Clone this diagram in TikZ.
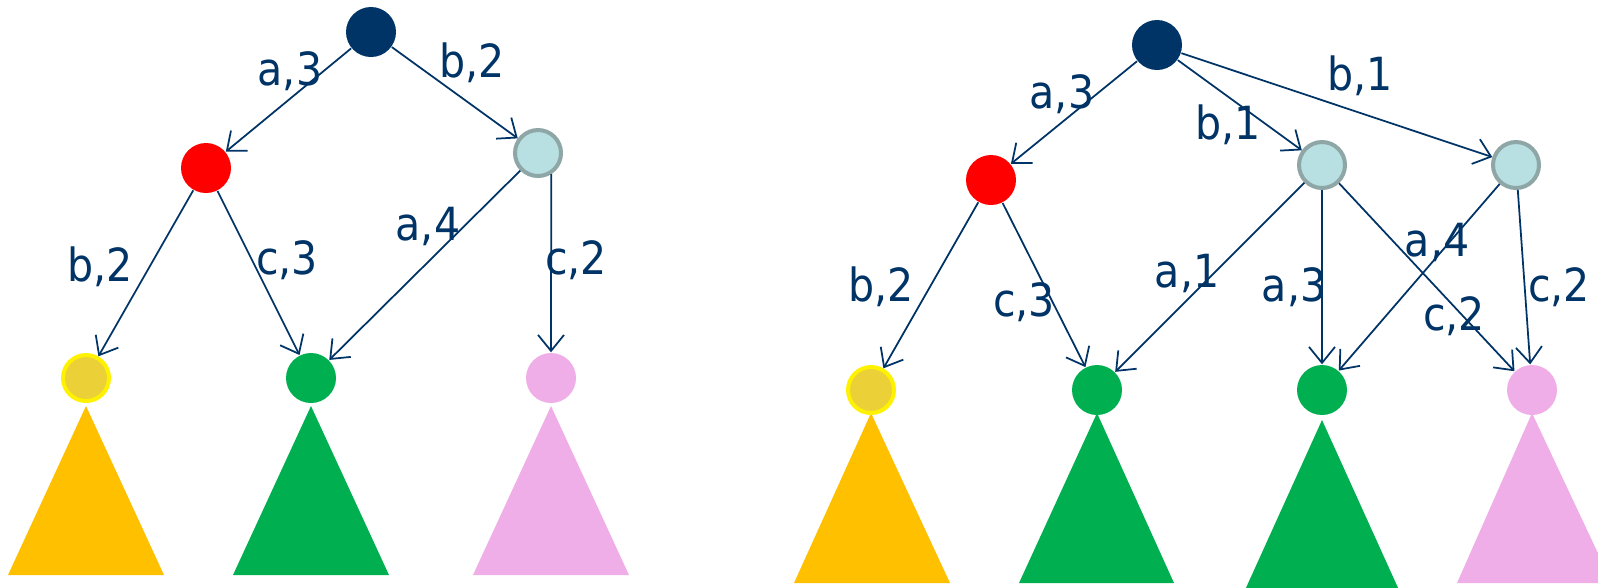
\documentclass[tikz,border=0pt]{standalone}
\usepackage{fontspec}
\setmainfont{DejaVu Sans Condensed}
\usepackage{tikz}
\usetikzlibrary{arrows.meta, positioning}

\definecolor{navy}{RGB}{0,51,102}
\definecolor{tipred}{RGB}{255,0,0}
\definecolor{leafgreen}{RGB}{0,176,80}
\definecolor{leafpink}{RGB}{240,174,232}
\definecolor{leafgold}{RGB}{255,192,0}
\definecolor{dullgold}{RGB}{235,208,55}
\definecolor{paleblue}{RGB}{184,223,225}
\definecolor{greyring}{RGB}{143,166,166}

\begin{document}
\begin{tikzpicture}[
    x=0.1mm, y=-0.1mm,
    >={Straight Barb[length=1.6mm,width=2.6mm]},
    state/.style={circle, minimum size=5mm, inner sep=0pt},
    rootstate/.style={state, fill=navy},
    redstate/.style={state, fill=tipred},
    bluestate/.style={state, fill=paleblue, draw=greyring, line width=0.4mm, minimum size=4.6mm},
    goldstate/.style={state, fill=dullgold, draw=yellow, line width=0.4mm, minimum size=4.6mm},
    greenstate/.style={state, fill=leafgreen},
    pinkstate/.style={state, fill=leafpink},
    edge/.style={->, draw=navy, line width=0.5pt},
    lbl/.style={text=navy, font=\fontsize{13}{15}\selectfont, inner sep=0pt}
]
\useasboundingbox (0,0) rectangle (1598,587);

% ---------------------------------------------------------------- Subtrees
\fill[leafgold]  (86,406)   -- (8,575)    -- (164,575)  -- cycle;
\fill[leafgreen] (311,406)  -- (233,575)  -- (389,575)  -- cycle;
\fill[leafpink]  (551,406)  -- (473,575)  -- (629,575)  -- cycle;

\fill[leafgold]  (871,413)  -- (794,583)  -- (950,583)  -- cycle;
\fill[leafgreen] (1097,413) -- (1019,583) -- (1174,583) -- cycle;
\fill[leafgreen] (1322,420) -- (1245,590) -- (1399,590) -- cycle;
\fill[leafpink]  (1532,413) -- (1457,583) -- (1612,583) -- cycle;

% ---------------------------------------------------------------- States (left)
\node[rootstate]  (lRoot)  at (371,32)  {};
\node[redstate]   (lRed)   at (206,168) {};
\node[bluestate]  (lBlue)  at (538,153) {};
\node[goldstate]  (lGold)  at (86,378)  {};
\node[greenstate] (lGreen) at (311,378) {};
\node[pinkstate]  (lPink)  at (551,378) {};

% ---------------------------------------------------------------- States (right)
\node[rootstate]  (rRoot)   at (1157,45)  {};
\node[redstate]   (rRed)    at (991,180)  {};
\node[bluestate]  (rBlueA)  at (1322,165) {};
\node[bluestate]  (rBlueB)  at (1516,165) {};
\node[goldstate]  (rGold)   at (871,390)  {};
\node[greenstate] (rGreenA) at (1097,390) {};
\node[greenstate] (rGreenB) at (1322,390) {};
\node[pinkstate]  (rPink)   at (1532,390) {};

% ---------------------------------------------------------------- Transitions (left)
\draw[edge] (lRoot) -- (lRed);
\draw[edge] (lRoot) -- (lBlue);
\draw[edge] (lRed)  -- (lGold);
\draw[edge] (lRed)  -- (lGreen);
\draw[edge] (lBlue) -- (lGreen);
\draw[edge] (lBlue.-58) -- (lPink.north);

% ---------------------------------------------------------------- Transitions (right)
\draw[edge] (rRoot)  -- (rRed);
\draw[edge] (rRoot)  -- (rBlueA);
\draw[edge] (rRoot)  -- (rBlueB);
\draw[edge] (rRed)   -- (rGold);
\draw[edge] (rRed)   -- (rGreenA);
\draw[edge] (rBlueA) -- (rGreenA);
\draw[edge] (rBlueA) -- (rGreenB);
\draw[edge] (rBlueA) -- (rPink);
\draw[edge] (rBlueB) -- (rGreenB);
\draw[edge] (rBlueB) -- (rPink);

% ---------------------------------------------------------------- Labels (left)
\node[lbl] (lLblA) at (290,71)  {a,3};
\node[lbl] (lLblB) at (472,63)  {b,2};
\node[lbl] (lLblC) at (100,267) {b,2};
\node[lbl] (lLblD) at (287,260) {c,3};
\node[lbl] (lLblE) at (428,226) {a,4};
\node[lbl] (lLblF) at (576,260) {c,2};

% ---------------------------------------------------------------- Labels (right)
\node[lbl] (rLblA) at (1062,94)  {a,3};
\node[lbl] (rLblB) at (1228,125) {b,1};
\node[lbl] (rLblC) at (1360,76)  {b,1};
\node[lbl] (rLblD) at (881,287)  {b,2};
\node[lbl] (rLblE) at (1024,302) {c,3};
\node[lbl] (rLblF) at (1187,273) {a,1};
\node[lbl] (rLblG) at (1294,287) {a,3};
\node[lbl] (rLblH) at (1437,242) {a,4};
\node[lbl] (rLblI) at (1454,316) {c,2};
\node[lbl] (rLblJ) at (1559,287) {c,2};

\end{tikzpicture}
\end{document}
